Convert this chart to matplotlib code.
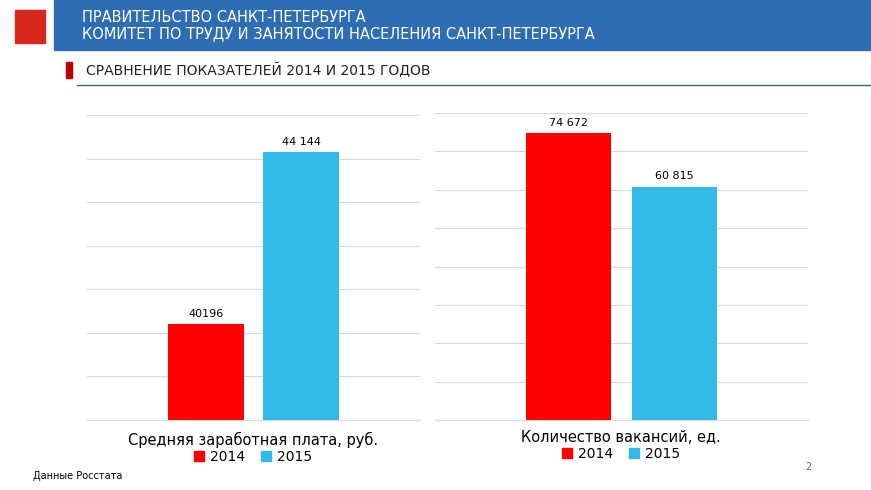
import matplotlib.pyplot as plt
from matplotlib.patches import Rectangle

# Data
years = ["2014", "2015"]
salary = [40196, 44144]
salary_labels = ["40196", "44 144"]
vacancies = [74672, 60815]
vacancy_labels = ["74 672", "60 815"]
colors = ["#ff0000", "#33b9e8"]

plt.rcParams["font.family"] = "DejaVu Sans"
W, H = 871, 490
fig = plt.figure(figsize=(W / 100, H / 100), dpi=100)


def fx(px):
    return px / W


def fy(py):
    return 1 - py / H


# Header
fig.patches.append(Rectangle((fx(54), fy(50)), fx(817), 50 / H, transform=fig.transFigure,
                             color="#2e6db3", zorder=0))
fig.patches.append(Rectangle((fx(15), fy(43)), fx(30), 33 / H, transform=fig.transFigure,
                             color="#d9271e", zorder=1))
fig.text(fx(82), fy(17), "ПРАВИТЕЛЬСТВО САНКТ-ПЕТЕРБУРГА", color="white", fontsize=10.5, va="center")
fig.text(fx(82), fy(34), "КОМИТЕТ ПО ТРУДУ И ЗАНЯТОСТИ НАСЕЛЕНИЯ САНКТ-ПЕТЕРБУРГА", color="white",
         fontsize=10.5, va="center")
fig.patches.append(Rectangle((fx(66), fy(78)), fx(6), 16 / H, transform=fig.transFigure,
                             color="#c00000"))
fig.text(fx(86), fy(70), "СРАВНЕНИЕ ПОКАЗАТЕЛЕЙ 2014 И 2015 ГОДОВ", color="#222222",
         fontsize=10, va="center")
fig.add_artist(plt.Line2D([fx(77), 1], [fy(85), fy(85)], color="#2b6b8a", lw=1))


def draw(ax, values, labels, ylim, step, title, title_y, leg_y, cx):
    ax.bar([0, 1], values, width=0.8, color=colors, zorder=3)
    ax.set_xlim(-1.25, 2.25)
    ax.set_ylim(*ylim)
    ax.set_yticks(range(ylim[0], ylim[1] + 1, step))
    ax.yaxis.grid(True, color="#d9d9d9", lw=0.8)
    ax.tick_params(left=False, bottom=False, labelleft=False, labelbottom=False)
    for s in ["left", "right", "top"]:
        ax.spines[s].set_visible(False)
    ax.spines["bottom"].set_color("#d9d9d9")
    for i, (v, t) in enumerate(zip(values, labels)):
        ax.annotate(t, (i, v), xytext=(0, 4), textcoords="offset points",
                    ha="center", va="bottom", fontsize=8)
    fig.text(fx(cx), fy(title_y), title, ha="center", va="center", fontsize=10.5)
    handles = [Rectangle((0, 0), 1, 1, color=c) for c in colors]
    fig.legend(handles, years, loc="center", bbox_to_anchor=(fx(cx), fy(leg_y)), ncol=2,
               frameon=False, fontsize=10, handlelength=0.7, handleheight=0.7,
               columnspacing=1.2, handletextpad=0.4, borderpad=0)


ax1 = fig.add_axes([fx(87), fy(420), fx(333), 305 / H])
draw(ax1, salary, salary_labels, (38000, 45000), 1000,
     "Средняя заработная плата, руб.", 440, 457, 253)
ax2 = fig.add_axes([fx(435), fy(420), fx(373), 307 / H])
draw(ax2, vacancies, vacancy_labels, (0, 80000), 10000,
     "Количество вакансий, ед.", 438, 454, 621)

fig.text(fx(33), fy(476), "Данные Росстата", fontsize=7, va="center")
fig.text(fx(805), fy(467), "2", fontsize=7, va="center", color="#666666")

fig.savefig("out.png", dpi=100)
